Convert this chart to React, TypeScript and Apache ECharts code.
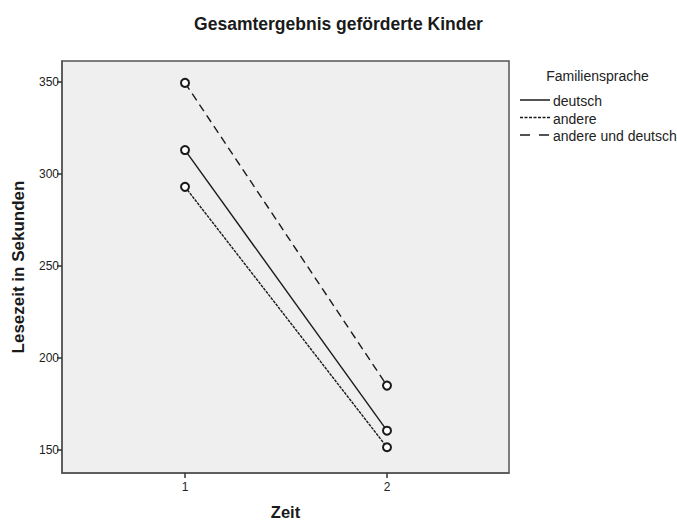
import React, { useEffect, useRef } from "react";
import * as echarts from "echarts";

const zeit = [1, 2];
const seriesNames = ["deutsch", "andere", "andere und deutsch"];
const deutsch = [313, 160.5];
const andere = [293, 151.5];
const andereUndDeutsch = [349.5, 185];
const yTicks = [150, 200, 250, 300, 350];
const xTicks = [1, 2];

export default function App() {
  const ref = useRef<HTMLDivElement>(null);
  useEffect(() => {
    const chart = echarts.init(ref.current!, null, { renderer: "svg" });
    const font = "Arial, 'Liberation Sans', sans-serif";
    const mk = (vals: number[]) => zeit.map((z, i) => [z, vals[i]]);
    const lineBase = {
      type: "line",
      symbol: "emptyCircle",
      symbolSize: 8,
      itemStyle: { color: "#1a1a1a", borderWidth: 1.2 },
      silent: true,
    };
    const legendX = 520;
    const legendRows = [
      { y: 100, dash: null as any, name: seriesNames[0] },
      { y: 117.5, dash: [3, 1.5], name: seriesNames[1] },
      { y: 135, dash: [10, 9], name: seriesNames[2] },
    ];
    const graphics: any[] = [
      {
        type: "text",
        x: 597.5,
        y: 76,
        style: {
          text: "Familiensprache",
          font: `14px ${font}`,
          fill: "#222",
          align: "center",
          verticalAlign: "middle",
        },
      },
    ];
    legendRows.forEach((r) => {
      graphics.push({
        type: "line",
        shape: { x1: legendX, y1: r.y, x2: legendX + 30, y2: r.y },
        style: { stroke: "#1a1a1a", lineWidth: 1.5, lineDash: r.dash || undefined },
      });
      graphics.push({
        type: "text",
        x: legendX + 33,
        y: r.y + 1,
        style: {
          text: r.name,
          font: `14px ${font}`,
          fill: "#222",
          verticalAlign: "middle",
        },
      });
    });
    chart.setOption({
      animation: false,
      title: {
        text: "Gesamtergebnis geförderte Kinder",
        left: "center",
        top: 10,
        textStyle: { fontFamily: font, fontSize: 17.5, fontWeight: "bold", color: "#1a1a1a" },
      },
      grid: {
        left: 62,
        top: 61,
        width: 447,
        height: 412,
        outerBoundsMode: "none",
        containLabel: false,
        show: true,
        backgroundColor: "#efefef",
        borderColor: "#555",
        borderWidth: 1.5,
      },
      xAxis: {
        type: "value",
        min: 0.391,
        max: 2.604,
        name: "Zeit",
        nameLocation: "middle",
        nameGap: 30,
        nameTextStyle: { fontFamily: font, fontSize: 16.5, fontWeight: "bold", color: "#1a1a1a" },
        axisLine: { show: true, lineStyle: { color: "#555", width: 1.5 } },
        axisTick: { show: true, customValues: xTicks, length: 5, lineStyle: { color: "#333", width: 1.5 } },
        axisLabel: { customValues: xTicks, fontFamily: font, fontSize: 12, color: "#222", margin: 8 },
        splitLine: { show: false },
      },
      yAxis: {
        type: "value",
        min: 137.5,
        max: 361.4,
        name: "Lesezeit in Sekunden",
        nameLocation: "middle",
        nameGap: 35,
        nameTextStyle: { fontFamily: font, fontSize: 17, fontWeight: "bold", color: "#1a1a1a" },
        axisLine: { show: true, lineStyle: { color: "#555", width: 1.5 } },
        axisTick: { show: true, customValues: yTicks, length: 5, lineStyle: { color: "#333", width: 1.5 } },
        axisLabel: { customValues: yTicks, fontFamily: font, fontSize: 12, color: "#222", margin: 3 },
        splitLine: { show: false },
      },
      graphic: graphics,
      series: [
        { ...lineBase, name: seriesNames[0], data: mk(deutsch), lineStyle: { color: "#1a1a1a", width: 1.4, type: "solid" } },
        { ...lineBase, name: seriesNames[1], data: mk(andere), lineStyle: { color: "#1a1a1a", width: 1.4, type: [3, 1] } },
        { ...lineBase, name: seriesNames[2], data: mk(andereUndDeutsch), lineStyle: { color: "#1a1a1a", width: 1.4, type: [8, 5] } },
      ],
    });
    return () => chart.dispose();
  }, []);
  return (
    <div
      ref={ref}
      style={{ position: "fixed", left: 0, top: 0, width: 677, height: 521, background: "#fff" }}
    />
  );
}
